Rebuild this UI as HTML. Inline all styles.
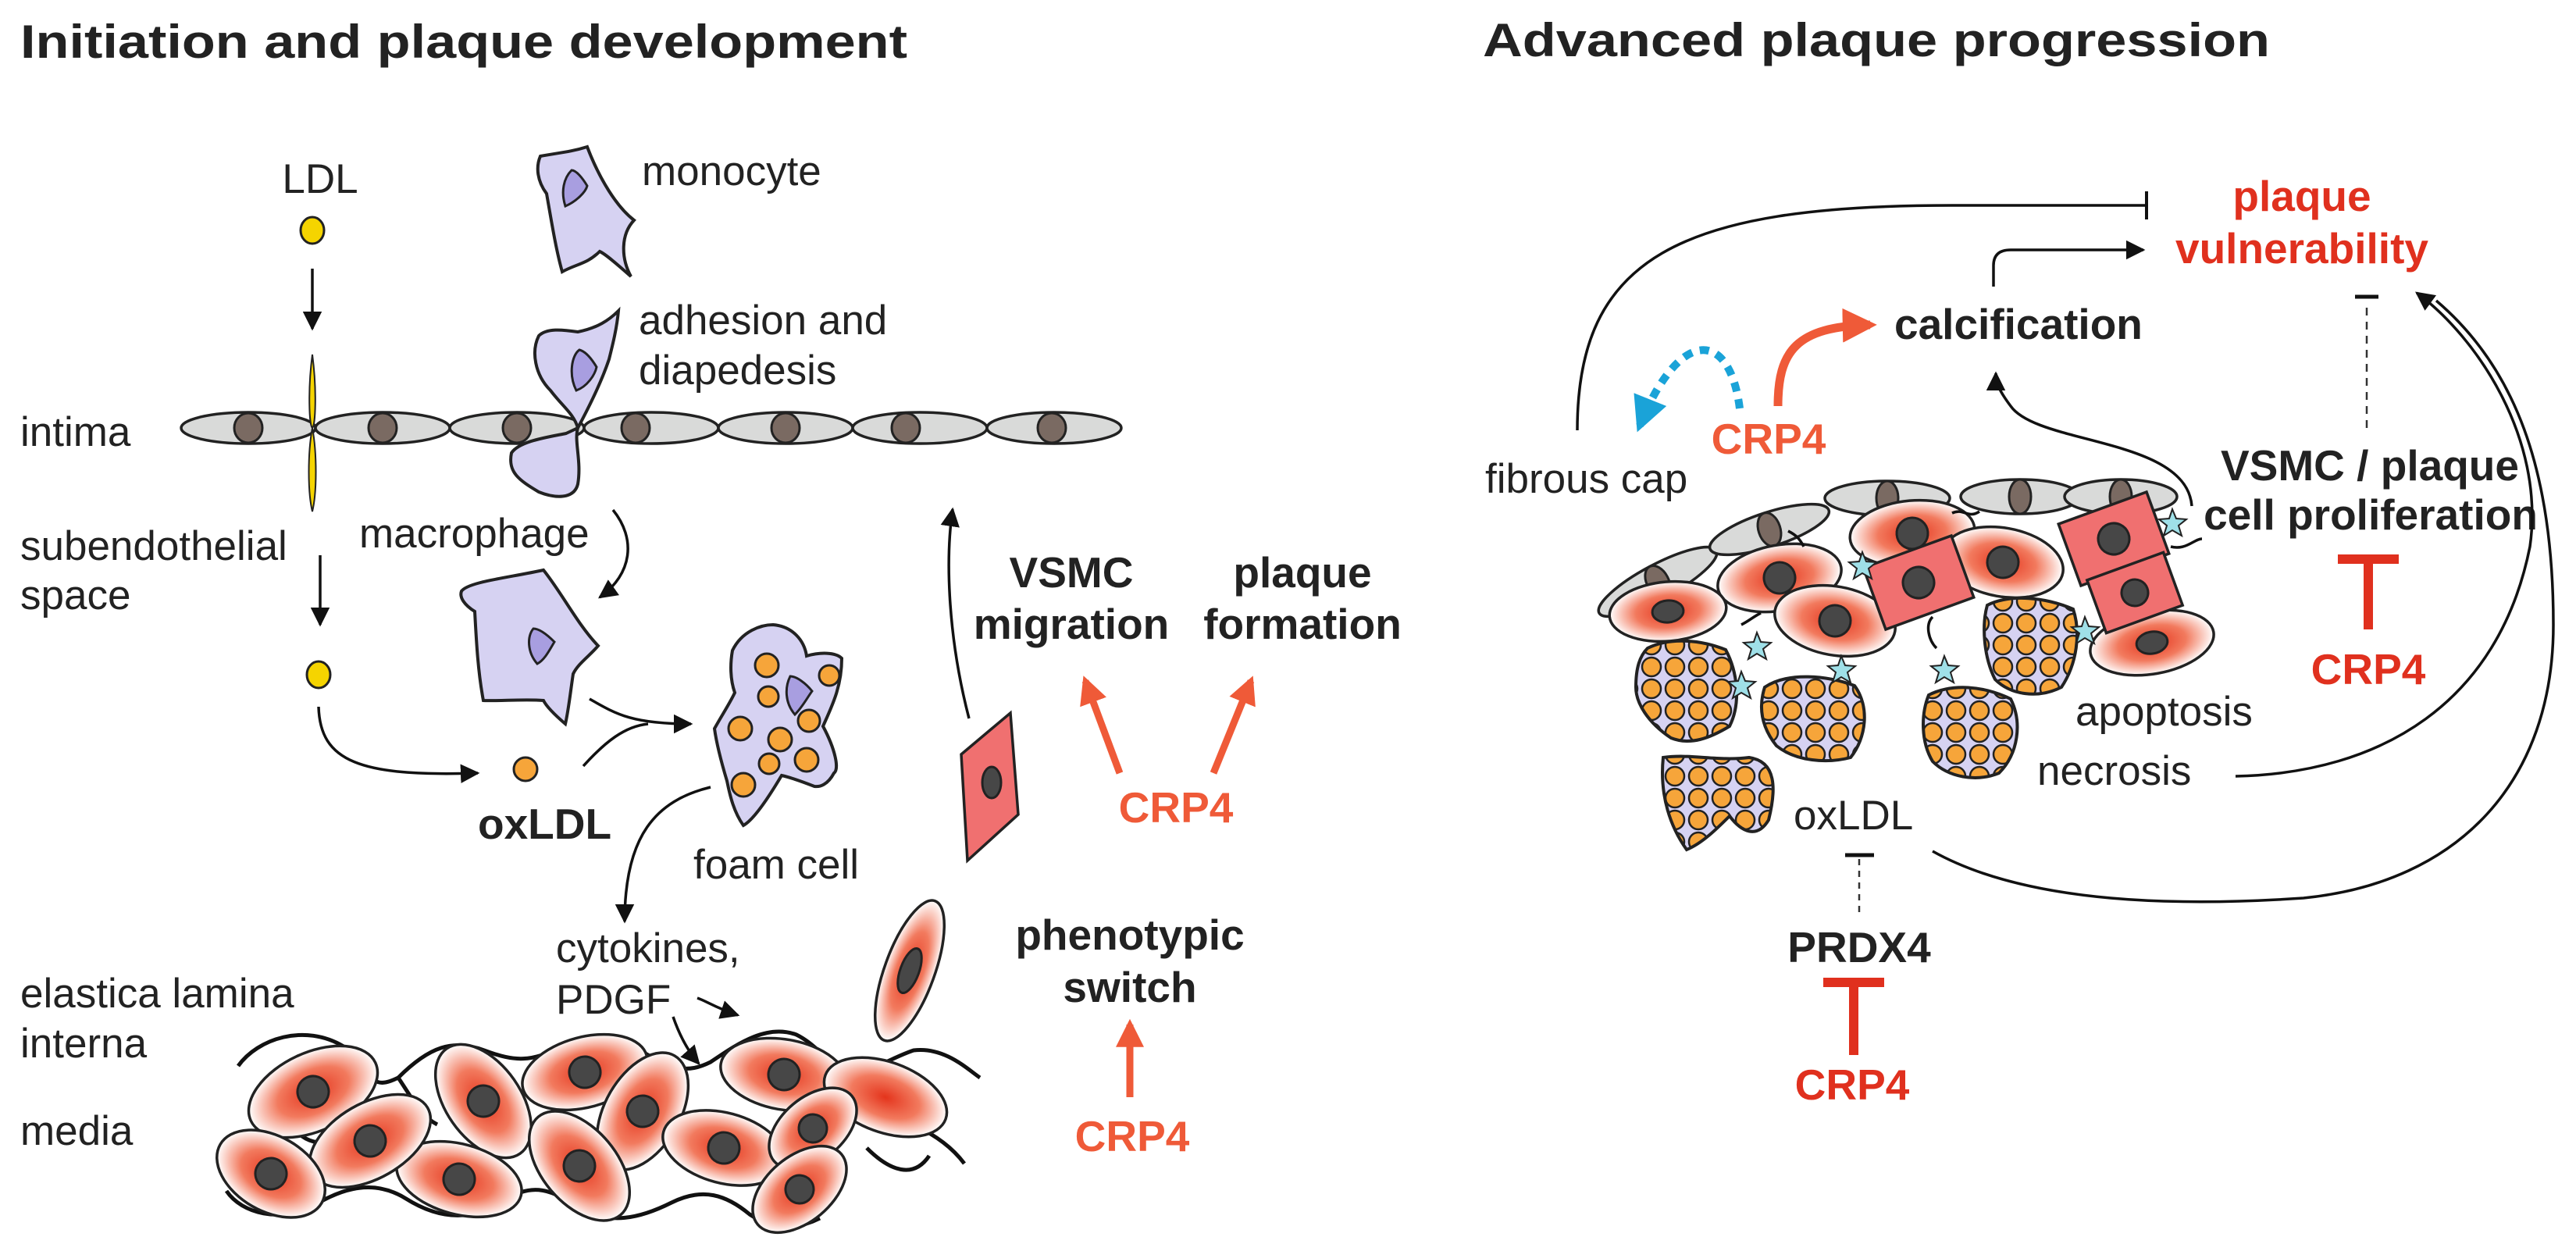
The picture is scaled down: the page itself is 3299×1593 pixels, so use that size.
<!DOCTYPE html>
<html><head><meta charset="utf-8"><style>
html,body{margin:0;padding:0;background:#fff}
svg{display:block}
text{font-family:"Liberation Sans",Arial,sans-serif;fill:#222}
.b{font-weight:bold}
.r{font-size:53px}
.o{fill:#ef5a38;font-weight:bold;font-size:55px}
.rd{fill:#e0301e;font-weight:bold;font-size:55px}
.ln{fill:none;stroke:#111;stroke-width:3.5}
.en{fill:#d9dad9;stroke:#222;stroke-width:3.5}
.nu{fill:#7a6a62;stroke:#222;stroke-width:3}
.lav{fill:#d6d2f2;stroke:#222;stroke-width:4}
.nuc{fill:#a89ee0;stroke:#222;stroke-width:3}
.sm{fill:url(#rg);stroke:#222;stroke-width:3.5}
.dk{fill:#474747;stroke:#222;stroke-width:3}
.pk{fill:#f07070;stroke:#222;stroke-width:3.5}
.fc{fill:url(#dots);stroke:#222;stroke-width:4}
.wv{fill:none;stroke:#111;stroke-width:5}
</style></head><body>
<svg width="3299" height="1593" viewBox="0 0 3299 1593" xmlns="http://www.w3.org/2000/svg">
<defs>
<radialGradient id="rg" cx="50%" cy="50%" r="50%">
<stop offset="0" stop-color="#e4341c"/><stop offset="0.55" stop-color="#f27a5e"/><stop offset="1" stop-color="#fff"/>
</radialGradient>
<pattern id="dots" width="30" height="28" patternUnits="userSpaceOnUse">
<rect width="30" height="28" fill="#d6d2f2"/>
<circle cx="15" cy="14" r="12" fill="#f6a53a" stroke="#222" stroke-width="2.5"/>
</pattern>
<marker id="ab" viewBox="0 0 10 10" refX="9" refY="5" markerWidth="7" markerHeight="7" markerUnits="strokeWidth" orient="auto"><path d="M0,0 L10,5 L0,10 z" fill="#111"/></marker>
<marker id="ao" viewBox="0 0 10 10" refX="8" refY="5" markerWidth="4" markerHeight="4" markerUnits="strokeWidth" orient="auto"><path d="M0,0 L10,5 L0,10 z" fill="#ef5a38"/></marker>
<marker id="abl" viewBox="0 0 10 10" refX="8" refY="5" markerWidth="4.5" markerHeight="4.5" markerUnits="strokeWidth" orient="auto"><path d="M0,0 L10,5 L0,10 z" fill="#1aa3d8"/></marker>
</defs>

<text x="26" y="74" class="b" font-size="60" textLength="1136" lengthAdjust="spacingAndGlyphs">Initiation and plaque development</text>
<text x="1899" y="72" class="b" font-size="60" textLength="1008" lengthAdjust="spacingAndGlyphs">Advanced plaque progression</text>

<text x="410" y="247" class="r" text-anchor="middle">LDL</text>
<ellipse cx="400" cy="295" rx="15" ry="17" fill="#f5d400" stroke="#222" stroke-width="3"/>
<line x1="400" y1="344" x2="400" y2="421" class="ln" marker-end="url(#ab)"/>

<path class="lav" d="M692,200 C712,196 730,195 752,188 C768,230 790,265 812,282 C795,300 795,330 808,354 C790,338 775,325 768,322 C752,338 738,338 720,348 C712,320 706,282 700,248 C688,232 686,214 692,200 Z"/>
<path class="nuc" d="M732,218 C722,228 718,245 724,264 C738,258 750,246 752,238 C746,228 738,218 732,218 Z"/>
<text x="822" y="237" class="r">monocyte</text>

<g>
<ellipse cx="318" cy="548" rx="86" ry="20" class="en"/>
<ellipse cx="490" cy="548" rx="86" ry="20" class="en"/>
<ellipse cx="662" cy="548" rx="86" ry="20" class="en"/>
<ellipse cx="834" cy="548" rx="86" ry="20" class="en"/>
<ellipse cx="1006" cy="548" rx="86" ry="20" class="en"/>
<ellipse cx="1178" cy="548" rx="86" ry="20" class="en"/>
<ellipse cx="1350" cy="548" rx="86" ry="20" class="en"/>
<ellipse cx="318" cy="548" rx="18" ry="19" class="nu"/>
<ellipse cx="490" cy="548" rx="18" ry="19" class="nu"/>
<ellipse cx="662" cy="548" rx="18" ry="19" class="nu"/>
<ellipse cx="814" cy="548" rx="18" ry="19" class="nu"/>
<ellipse cx="1006" cy="548" rx="18" ry="19" class="nu"/>
<ellipse cx="1160" cy="548" rx="18" ry="19" class="nu"/>
<ellipse cx="1347" cy="548" rx="18" ry="19" class="nu"/>
</g>
<path d="M400,454 C406,500 404,545 400,548 C396,545 394,500 400,454 Z M400,548 C406,580 406,630 400,655 C394,630 394,580 400,548 Z" fill="#f5d400" stroke="#222" stroke-width="2"/>
<path class="lav" d="M792,398 C780,410 765,420 740,425 C720,422 700,420 690,430 C680,450 685,480 705,500 C720,520 735,530 740,548 C735,565 745,590 740,620 C735,640 710,638 690,630 C665,615 650,605 655,580 C665,565 700,560 725,555 L740,548 C755,520 770,490 780,460 C785,440 790,420 792,398 Z"/>
<path class="nuc" d="M742,448 C732,455 728,480 738,500 C752,495 762,480 764,470 C758,460 750,450 742,448 Z"/>
<text x="818" y="428" class="r">adhesion and</text>
<text x="818" y="492" class="r">diapedesis</text>
<text x="26" y="571" class="r">intima</text>
<text x="26" y="717" class="r">subendothelial</text>
<text x="26" y="780" class="r">space</text>
<line x1="410" y1="711" x2="410" y2="800" class="ln" marker-end="url(#ab)"/>
<text x="460" y="701" class="r">macrophage</text>
<path class="ln" d="M785,653 C815,690 810,735 768,765" marker-end="url(#ab)"/>

<path class="lav" d="M591,757 C600,745 650,740 696,730 C720,760 740,800 766,827 C755,840 740,850 734,863 C730,890 728,910 724,927 C710,915 700,905 696,897 C670,895 640,898 619,897 C612,860 610,820 608,783 C595,775 588,765 591,757 Z"/>
<path class="nuc" d="M683,805 C675,815 675,835 688,850 C698,845 705,830 710,822 C700,812 690,805 683,805 Z"/>

<ellipse cx="408" cy="864" rx="15" ry="17" fill="#f5d400" stroke="#222" stroke-width="3"/>
<path class="ln" d="M408,905 C410,975 460,995 612,990" marker-end="url(#ab)"/>
<circle cx="673" cy="985" r="15" fill="#f6a53a" stroke="#222" stroke-width="3"/>
<text x="612" y="1074" class="b" font-size="55">oxLDL</text>
<path class="ln" d="M755,895 C790,915 810,927 885,927" marker-end="url(#ab)"/>
<path class="ln" d="M747,981 C775,950 800,930 830,927"/>

<path class="lav" d="M938,833 C950,808 975,800 990,800 C1015,802 1030,820 1033,840 C1050,835 1070,835 1078,843 C1078,880 1065,905 1054,930 C1070,960 1075,985 1068,990 C1060,1005 1050,1008 1043,1007 C1025,1000 1010,995 1001,993 C985,1020 965,1050 952,1057 C940,1040 935,1020 931,1000 C925,980 918,955 915,933 C925,915 935,900 941,887 C935,870 935,850 938,833 Z"/>
<path class="nuc" d="M1012,866 C1005,880 1005,900 1018,915 C1028,905 1034,893 1040,885 C1032,875 1020,866 1012,866 Z"/>
<g fill="#f6a53a" stroke="#222" stroke-width="3">
<circle cx="982" cy="852" r="15"/><circle cx="984" cy="892" r="13"/><circle cx="948" cy="933" r="15"/>
<circle cx="999" cy="947" r="15"/><circle cx="1036" cy="923" r="14"/><circle cx="1062" cy="865" r="13"/>
<circle cx="1033" cy="973" r="15"/><circle cx="985" cy="978" r="13"/><circle cx="952" cy="1005" r="15"/>
</g>
<text x="888" y="1125" class="r">foam cell</text>
<path class="ln" d="M910,1008 C840,1025 800,1070 800,1180" marker-end="url(#ab)"/>
<text x="712" y="1232" class="r">cytokines,</text>
<text x="712" y="1298" class="r">PDGF</text>
<path class="ln" d="M893,1278 C905,1282 915,1290 945,1300" marker-end="url(#ab)"/>
<path class="ln" d="M862,1302 C870,1325 880,1345 895,1362" marker-end="url(#ab)"/>

<text x="26" y="1290" class="r">elastica lamina</text>
<text x="26" y="1354" class="r">interna</text>
<text x="26" y="1466" class="r">media</text>

<g class="wv">
<path d="M305,1365 C330,1330 390,1310 440,1340 C480,1370 470,1400 510,1380 C550,1340 580,1330 620,1345 C660,1360 680,1360 720,1340 C770,1320 790,1330 820,1345 C860,1370 880,1375 910,1360 C940,1340 980,1310 1020,1325 C1050,1340 1060,1365 1090,1370 C1120,1372 1140,1355 1170,1345 C1210,1340 1240,1370 1255,1380"/>
<path d="M290,1525 C310,1555 360,1565 400,1545 C440,1520 480,1510 520,1535 C560,1560 600,1565 640,1540 C680,1515 700,1520 740,1545 C780,1570 820,1560 860,1540 C900,1520 930,1530 960,1555 C990,1575 1020,1575 1050,1560"/>
<path d="M365,1430 C380,1455 400,1470 430,1460 M510,1380 C530,1410 540,1430 560,1440 M700,1430 C720,1460 760,1470 780,1455 M880,1430 C900,1450 920,1445 940,1440 M1110,1470 C1140,1500 1170,1510 1190,1480 M1170,1440 C1200,1455 1220,1470 1235,1490"/>
</g>
<g>
<g transform="translate(401,1398) rotate(-25)"><ellipse rx="88" ry="50" class="sm"/><circle r="20" class="dk"/></g>
<g transform="translate(619,1410) rotate(55)"><ellipse rx="82" ry="48" class="sm"/><circle r="20" class="dk"/></g>
<g transform="translate(749,1373) rotate(-15)"><ellipse rx="82" ry="45" class="sm"/><circle r="20" class="dk"/></g>
<g transform="translate(823,1423) rotate(-60)"><ellipse rx="82" ry="48" class="sm"/><circle r="20" class="dk"/></g>
<g transform="translate(1004,1376) rotate(10)"><ellipse rx="82" ry="45" class="sm"/><circle r="20" class="dk"/></g>
<g transform="translate(1134,1405) rotate(20)"><ellipse rx="82" ry="45" class="sm"/></g>
<g transform="translate(927,1470) rotate(15)"><ellipse rx="80" ry="45" class="sm"/><circle r="20" class="dk"/></g>
<g transform="translate(1041,1445) rotate(-40)"><ellipse rx="65" ry="40" class="sm"/><circle r="18" class="dk"/></g>
<g transform="translate(742,1493) rotate(50)"><ellipse rx="82" ry="48" class="sm"/><circle r="20" class="dk"/></g>
<g transform="translate(588,1510) rotate(15)"><ellipse rx="82" ry="45" class="sm"/><circle r="20" class="dk"/></g>
<g transform="translate(474,1461) rotate(-30)"><ellipse rx="85" ry="48" class="sm"/><circle r="20" class="dk"/></g>
<g transform="translate(347,1503) rotate(30)"><ellipse rx="75" ry="48" class="sm"/><circle r="20" class="dk"/></g>
<g transform="translate(1024,1523) rotate(-40)"><ellipse rx="70" ry="42" class="sm"/><circle r="18" class="dk"/></g>
</g>
<g transform="translate(1165,1243) rotate(-70)"><ellipse rx="95" ry="32" class="sm"/><ellipse rx="30" ry="12" class="dk"/></g>
<path d="M1231,966 L1294,913 L1304,1043 L1239,1102 Z" class="pk"/>
<ellipse cx="1270" cy="1002" rx="12" ry="20" class="dk"/>
<path class="ln" d="M1241,920 C1215,820 1210,720 1220,652" marker-end="url(#ab)"/>

<text x="1372" y="752" class="b" font-size="55" text-anchor="middle">VSMC</text>
<text x="1372" y="818" class="b" font-size="55" text-anchor="middle">migration</text>
<text x="1668" y="752" class="b" font-size="55" text-anchor="middle">plaque</text>
<text x="1668" y="818" class="b" font-size="55" text-anchor="middle">formation</text>
<line x1="1434" y1="990" x2="1390" y2="872" stroke="#ef5a38" stroke-width="9" marker-end="url(#ao)"/>
<line x1="1554" y1="990" x2="1602" y2="872" stroke="#ef5a38" stroke-width="9" marker-end="url(#ao)"/>
<text x="1506" y="1053" class="o" text-anchor="middle">CRP4</text>
<text x="1447" y="1216" class="b" font-size="55" text-anchor="middle">phenotypic</text>
<text x="1447" y="1283" class="b" font-size="55" text-anchor="middle">switch</text>
<line x1="1447" y1="1405" x2="1447" y2="1312" stroke="#ef5a38" stroke-width="9" marker-end="url(#ao)"/>
<text x="1450" y="1474" class="o" text-anchor="middle">CRP4</text>

<path class="ln" d="M2020,551 C2020,330 2150,263 2500,263 L2749,263"/>
<line x1="2749" y1="245" x2="2749" y2="281" stroke="#111" stroke-width="4"/>
<text x="2948" y="270" class="rd" text-anchor="middle">plaque</text>
<text x="2948" y="337" class="rd" text-anchor="middle">vulnerability</text>
<path class="ln" d="M2553,367 L2553,340 Q2553,320 2575,320 L2745,320" marker-end="url(#ab)"/>
<text x="2426" y="434" class="b" font-size="55">calcification</text>
<path d="M2277,520 C2277,450 2300,418 2395,416" fill="none" stroke="#ef5a38" stroke-width="11" marker-end="url(#ao)"/>
<path d="M2228,523 C2215,420 2150,420 2100,545" fill="none" stroke="#1aa3d8" stroke-width="10" stroke-dasharray="12 10" marker-end="url(#abl)"/>
<text x="2265" y="581" class="o" text-anchor="middle">CRP4</text>
<text x="1902" y="631" class="r">fibrous cap</text>
<path class="ln" d="M2807,648 C2800,560 2610,570 2575,520 C2560,500 2556,490 2556,478" marker-end="url(#ab)"/>
<line x1="3031" y1="548" x2="3031" y2="393" stroke="#333" stroke-width="2.5" stroke-dasharray="10 8"/>
<line x1="3016" y1="380" x2="3046" y2="380" stroke="#111" stroke-width="5"/>
<text x="3035" y="615" class="b" font-size="55" text-anchor="middle">VSMC / plaque</text>
<text x="3036" y="678" class="b" font-size="55" text-anchor="middle">cell proliferation</text>
<path d="M2994,716 L3072,716 M3033,716 L3033,806" stroke="#e0301e" stroke-width="12" fill="none"/>
<text x="3033" y="876" class="rd" text-anchor="middle">CRP4</text>
<path class="ln" d="M2863,994 C3050,990 3200,900 3240,700 C3260,560 3170,430 3095,375" marker-end="url(#ab)"/>
<path class="ln" d="M2475,1090 C2600,1160 2800,1160 2950,1150 C3150,1130 3270,1000 3270,800 C3270,600 3220,470 3120,385"/>

<g>
<g transform="translate(2123,745) rotate(-28)"><ellipse rx="85" ry="22" class="en"/><ellipse rx="14" ry="22" class="nu"/></g>
<g transform="translate(2266,678) rotate(-18)"><ellipse rx="80" ry="22" class="en"/><ellipse rx="14" ry="22" class="nu"/></g>
<g transform="translate(2417,638)"><ellipse rx="80" ry="22" class="en"/><ellipse rx="14" ry="22" class="nu"/></g>
<g transform="translate(2587,636)"><ellipse rx="76" ry="22" class="en"/><ellipse rx="14" ry="22" class="nu"/></g>
<g transform="translate(2716,636)"><ellipse rx="72" ry="22" class="en"/><ellipse rx="14" ry="22" class="nu"/></g>
</g>
<g>
<g transform="translate(2449,683) rotate(-5)"><ellipse rx="80" ry="42" class="sm"/><circle r="20" class="dk"/></g>
<g transform="translate(2279,740) rotate(-10)"><ellipse rx="80" ry="42" class="sm"/><circle r="20" class="dk"/></g>
<g transform="translate(2136,783) rotate(-5)"><ellipse rx="75" ry="38" class="sm"/><ellipse rx="20" ry="14" class="dk"/></g>
<g transform="translate(2350,795) rotate(10)"><ellipse rx="78" ry="44" class="sm"/><circle r="20" class="dk"/></g>
<g transform="translate(2565,720) rotate(10)"><ellipse rx="78" ry="44" class="sm"/><circle r="20" class="dk"/></g>
<g transform="translate(2756,823) rotate(-10)"><ellipse rx="80" ry="40" class="sm"/><ellipse rx="20" ry="14" class="dk"/></g>
<g transform="translate(2457,746) rotate(-20)"><rect x="-60" y="-42" width="120" height="84" class="pk"/><circle r="20" class="dk"/></g>
<g transform="translate(2707,690) rotate(-20)"><rect x="-60" y="-42" width="120" height="84" class="pk"/><circle r="20" class="dk"/></g>
<g transform="translate(2734,759) rotate(-20)"><rect x="-52" y="-36" width="104" height="72" class="pk"/><circle r="17" class="dk"/></g>
</g>
<g>
<path class="fc" d="M2110,830 C2140,815 2180,820 2210,832 C2225,860 2230,900 2215,930 C2190,945 2165,955 2140,945 C2110,925 2095,900 2095,880 C2095,855 2100,840 2110,830 Z"/>
<path class="fc" d="M2260,880 C2290,860 2340,865 2375,878 C2395,905 2390,945 2370,970 C2340,978 2300,975 2275,955 C2255,930 2252,905 2260,880 Z"/>
<path class="fc" d="M2470,890 C2500,875 2540,878 2575,895 C2590,925 2585,965 2560,990 C2530,1002 2495,995 2475,975 C2460,950 2460,915 2470,890 Z"/>
<path class="fc" d="M2545,775 C2575,760 2620,765 2655,780 C2665,810 2660,850 2640,880 C2610,895 2575,890 2555,870 C2540,840 2538,800 2545,775 Z"/>
<path class="fc" d="M2130,970 C2165,965 2200,975 2240,970 C2275,975 2275,1010 2265,1050 C2250,1075 2230,1065 2215,1045 C2200,1060 2180,1080 2160,1088 C2140,1060 2125,1020 2130,970 Z"/>
</g>
<g fill="#9fe0e8" stroke="#222" stroke-width="2">
<path d="M2250,810 l5,12 l13,1 l-10,8 l4,13 l-12,-7 l-11,7 l4,-13 l-10,-8 l13,-1 z"/>
<path d="M2230,860 l5,12 l13,1 l-10,8 l4,13 l-12,-7 l-11,7 l4,-13 l-10,-8 l13,-1 z"/>
<path d="M2358,840 l5,12 l13,1 l-10,8 l4,13 l-12,-7 l-11,7 l4,-13 l-10,-8 l13,-1 z"/>
<path d="M2490,840 l5,12 l13,1 l-10,8 l4,13 l-12,-7 l-11,7 l4,-13 l-10,-8 l13,-1 z"/>
<path d="M2670,790 l5,12 l13,1 l-10,8 l4,13 l-12,-7 l-11,7 l4,-13 l-10,-8 l13,-1 z"/>
<path d="M2385,707 l5,12 l13,1 l-10,8 l4,13 l-12,-7 l-11,7 l4,-13 l-10,-8 l13,-1 z"/>
<path d="M2782,652 l5,12 l13,1 l-10,8 l4,13 l-12,-7 l-11,7 l4,-13 l-10,-8 l13,-1 z"/>
</g>
<g class="ln" stroke-width="4">
<path d="M2500,657 C2515,650 2520,665 2535,655"/>
<path d="M2475,790 C2465,800 2470,820 2480,830"/>
<path d="M2290,680 C2300,685 2305,690 2310,700"/>
<path d="M2230,800 C2240,795 2245,790 2255,785"/>
<path d="M2780,700 C2800,705 2810,690 2820,690"/>
</g>
<text x="2658" y="929" class="r">apoptosis</text>
<text x="2609" y="1005" class="r">necrosis</text>
<text x="2297" y="1062" class="r">oxLDL</text>
<line x1="2363" y1="1095" x2="2400" y2="1095" stroke="#111" stroke-width="5"/>
<line x1="2381" y1="1100" x2="2381" y2="1168" stroke="#333" stroke-width="2.5" stroke-dasharray="8 7"/>
<text x="2381" y="1232" class="b" font-size="55" text-anchor="middle">PRDX4</text>
<path d="M2335,1258 L2413,1258 M2374,1258 L2374,1351" stroke="#e0301e" stroke-width="12" fill="none"/>
<text x="2372" y="1408" class="rd" text-anchor="middle">CRP4</text>
</svg>
</body></html>
